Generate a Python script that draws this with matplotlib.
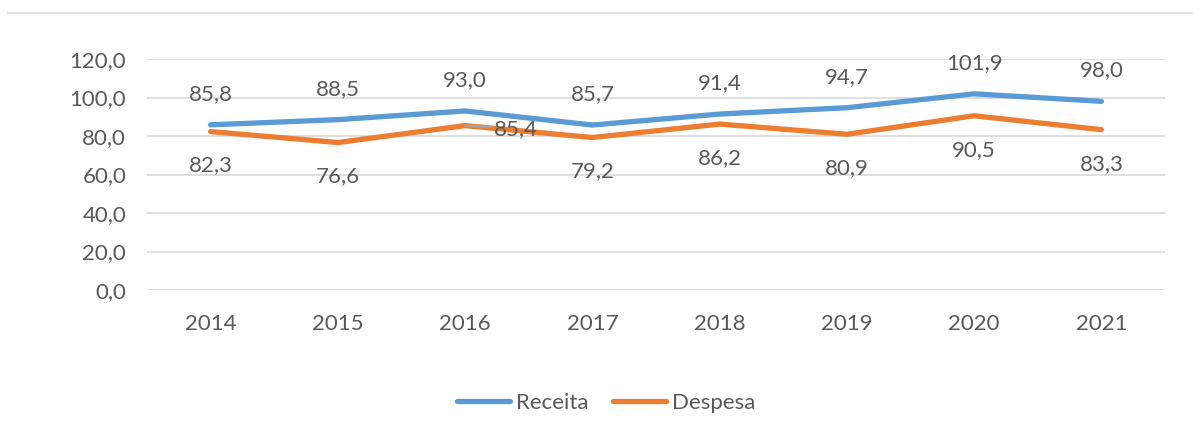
import matplotlib.pyplot as plt
from matplotlib.lines import Line2D

anos = ["2014", "2015", "2016", "2017", "2018", "2019", "2020", "2021"]
receita = [85.8, 88.5, 93.0, 85.7, 91.4, 94.7, 101.9, 98.0]
despesa = [82.3, 76.6, 85.4, 79.2, 86.2, 80.9, 90.5, 83.3]

azul = "#5B9BD5"
laranja = "#ED7D31"
cinza = "#595959"
fs = 16

plt.rcParams["font.family"] = ["Lato", "DejaVu Sans"]

fig = plt.figure(figsize=(11.93, 4.34), dpi=100)
ax = fig.add_axes([147 / 1193, 1 - 290 / 434, (1165 - 147) / 1193, (290 - 59) / 434])

x = list(range(len(anos)))
ax.plot(x, receita, color=azul, lw=3.8, solid_capstyle="round", solid_joinstyle="round", zorder=3)
ax.plot(x, despesa, color=laranja, lw=3.8, solid_capstyle="round", solid_joinstyle="round", zorder=3)

def fmt(v):
    return f"{v:.1f}".replace(".", ",")

for i, v in enumerate(receita):
    ax.annotate(fmt(v), (i, v), xytext=(0, 31), textcoords="offset pixels",
                ha="center", va="center", fontsize=fs, color=cinza)
for i, v in enumerate(despesa):
    if anos[i] == "2016":
        ax.annotate(fmt(v), (i, v), xytext=(51, -3), textcoords="offset pixels",
                    ha="center", va="center", fontsize=fs, color=cinza, zorder=4,
                    arrowprops=dict(arrowstyle="-", color="#A6A6A6", lw=1.5,
                                    shrinkA=0, shrinkB=22))
    else:
        ax.annotate(fmt(v), (i, v), xytext=(0, -34), textcoords="offset pixels",
                    ha="center", va="center", fontsize=fs, color=cinza)

ax.set_xlim(-0.5, len(anos) - 0.5)
ax.set_ylim(0, 120)
ax.set_yticks(range(0, 121, 20))
ax.set_yticklabels([fmt(v) for v in range(0, 121, 20)])
ax.set_xticks(x)
ax.set_xticklabels(anos)
ax.grid(axis="y", color="#D9D9D9", lw=1.2)
ax.set_axisbelow(True)
for s in ax.spines.values():
    s.set_visible(False)
ax.tick_params(length=0, labelsize=fs, colors=cinza)
ax.tick_params(axis="y", pad=15)
ax.tick_params(axis="x", pad=17)

# linha superior
fig.add_artist(Line2D([8 / 1193, 1], [1 - 13 / 434] * 2, color="#D9D9D9", lw=1.2))

handles = [Line2D([], [], color=azul, lw=3.8, solid_capstyle="round"),
           Line2D([], [], color=laranja, lw=3.8, solid_capstyle="round")]
fig.legend(handles, ["Receita", "Despesa"], loc="center", bbox_to_anchor=(606 / 1193, 1 - 403 / 434),
           ncol=2, frameon=False, fontsize=fs, labelcolor=cinza, handlelength=2.4,
           handletextpad=0.25, columnspacing=1.1)

fig.savefig("out.png", dpi=100)
